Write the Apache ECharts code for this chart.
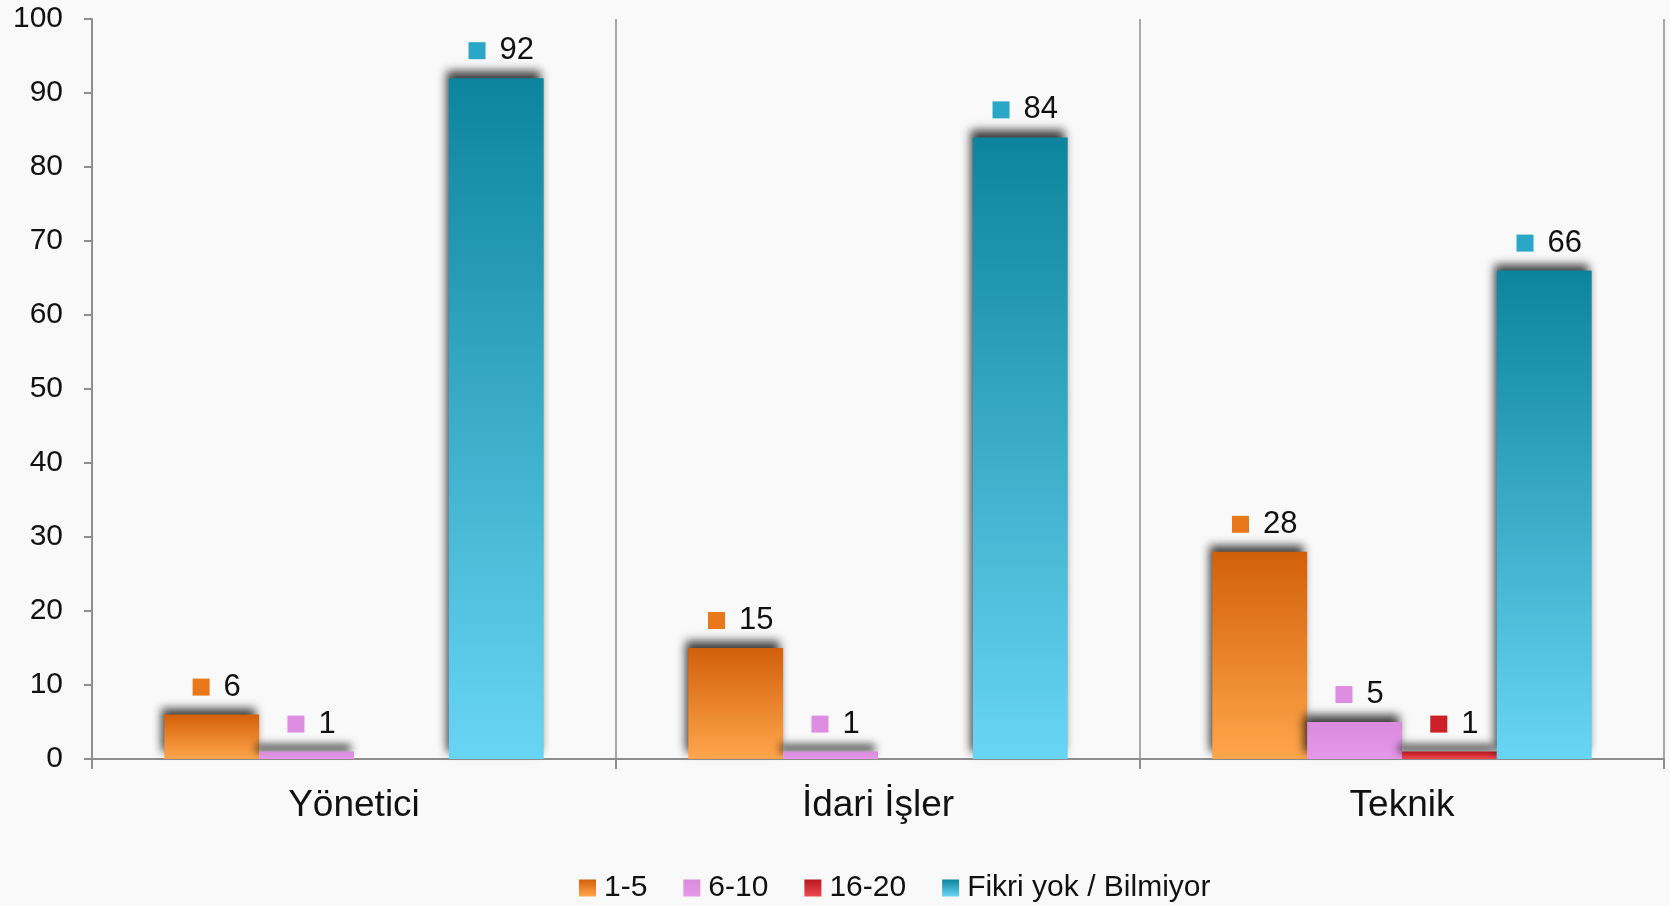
<!DOCTYPE html>
<html><head><meta charset="utf-8">
<script src="https://cdn.jsdelivr.net/npm/echarts@6/dist/echarts.min.js"></script>
<style>html,body{margin:0;padding:0;background:#f9f9f9}#c{width:1670px;height:906px}</style>
</head><body><div id="c"></div>
<script>
const categories = ['Yönetici', 'İdari İşler', 'Teknik'];
const seriesNames = ['1-5', '6-10', '16-20', 'Fikri yok / Bilmiyor'];
const s1_5 = [6, 15, 28];
const s6_10 = [1, 1, 5];
const s16_20 = ['-', '-', 1];
const sFikri = [92, 84, 66];
const yTicks = {min: 0, max: 100, interval: 10};

const grads = [
  ['#d2600a', '#ffa64c', '#e8781a'],
  ['#d98bdc', '#e597e8', '#dd8ee0'],
  ['#b81820', '#f04850', '#cc2028'],
  ['#0d849d', '#68d5f4', '#2aa6c6']
];
function g(c){return new echarts.graphic.LinearGradient(0,0,0,1,[{offset:0,color:c[0]},{offset:1,color:c[1]}]);}
const values = [s1_5, s6_10, s16_20, sFikri];
const font = 'Liberation Sans, Arial, sans-serif';
const chart = echarts.init(document.getElementById('c'));
chart.setOption({
  backgroundColor: '#f9f9f9',
  animation: false,
  textStyle: {fontFamily: font},
  grid: {left: 92, right: 6, top: 19, bottom: 147},
  legend: {
    top: 868, left: 574,
    icon: 'rect', itemWidth: 17, itemHeight: 17, itemGap: 36,
    textStyle: {fontSize: 30, color: '#111', fontFamily: font, padding: [0,0,0,3]},
    data: seriesNames
  },
  xAxis: {
    type: 'category', data: categories,
    axisLine: {lineStyle: {color: '#8e8e8e', width: 2}},
    axisTick: {show: true, length: 10, lineStyle: {color: '#8e8e8e', width: 2}},
    splitLine: {show: true, interval: 0, lineStyle: {color: '#8e8e8e', width: 1.5}},
    axisLabel: {fontSize: 37, color: '#111', margin: 28, fontFamily: font}
  },
  yAxis: {
    type: 'value', min: yTicks.min, max: yTicks.max, interval: yTicks.interval,
    axisLine: {show: true, lineStyle: {color: '#8e8e8e', width: 2}},
    axisTick: {show: true, length: 8, lineStyle: {color: '#8e8e8e', width: 2}},
    splitLine: {show: false},
    axisLabel: {fontSize: 30, color: '#111', margin: 29, fontFamily: font}
  },
  series: seriesNames.map((n, i) => ({
    name: n, type: 'bar', data: values[i],
    barGap: '0%', barCategoryGap: '27.6%',
    itemStyle: {
      color: g(grads[i]),
      shadowColor: 'rgba(0,0,0,0.75)', shadowBlur: 9, shadowOffsetX: -3, shadowOffsetY: -7
    },
    label: {
      show: true, position: 'top', distance: 12, offset: [5, 0],
      formatter: p => '{m|}{v|' + p.value + '}',
      rich: {
        m: {width: 17, height: 17, backgroundColor: grads[i][2]},
        v: {fontSize: 31, color: '#111', fontFamily: font, padding: [0, 0, 0, 14]}
      }
    }
  }))
});
</script></body></html>
